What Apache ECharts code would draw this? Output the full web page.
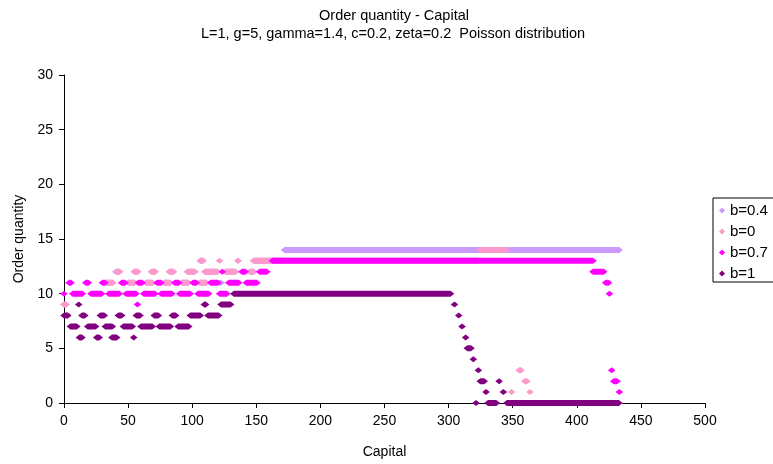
<!DOCTYPE html>
<html>
<head>
<meta charset="utf-8">
<script src="https://cdn.jsdelivr.net/npm/echarts@6/dist/echarts.min.js"></script>
<style>html,body{margin:0;padding:0;background:#fff;}#c{width:773px;height:464px;}</style>
</head>
<body>
<div id="c"></div>
<script>
// Runs of consecutive points: [capitalStart, capitalEnd, orderQuantity]
const seriesNames = ['b=0.4', 'b=0', 'b=0.7', 'b=1'];
const seriesColors = ['#CC99FF', '#FF99CC', '#FF00FF', '#800080'];
const xTicks = [0, 50, 100, 150, 200, 250, 300, 350, 400, 450, 500];
const yTicks = [0, 5, 10, 15, 20, 25, 30];

const runsB04 = [
  [0,1.5,9],[33,38,11],[40.5,43,12],[50,55,11],[54.9,57.5,12],[64,69,11],[68.3,71,12],
  [78,83,11],[82.2,85.3,12],[92,97,11],[96.3,102,12],[106,111,11],[106.3,108.4,13],
  [110,119.5,12],[121.5,122.5,11],[126,133.7,12],[135.7,135.7,13],[144.9,148,12],
  [148,171,13],[172,433,14]
];
const runsB0 = [
  [0,1.5,9],[33,38,11],[41.4,43.5,12],[50,55,11],[54.9,57.5,12],[64,69,11],[68.3,71,12],
  [78,83,11],[82.2,85.3,12],[92,97,11],[96.3,102,12],[106,111,11],[106.3,108.4,13],
  [110,119.5,12],[121.3,121.3,13],[126,133.7,12],[135.7,135.7,13],[144.9,148,12],
  [148,323,13],[325,345,14],[349,349,1],[355,356.5,3],[359.5,361,2],[363.5,363.5,1],
  [366,433,0]
];
const runsB07 = [
  [0,0,10],[4,5.5,11],[6.8,14.3,10],[17,19,11],[21,29.4,10],[30,32,11],[34.9,43.1,10],
  [45,47.6,11],[48.4,56.2,10],[57.3,57.3,9],[58,61,11],[62.2,71,10],[72.5,75.7,11],
  [75.7,84.2,10],[86.4,89.5,11],[90.2,98.5,10],[100.6,103.2,11],[104.5,112.9,10],
  [114.4,120.1,11],[121.4,127.1,10],[123.5,123.5,12],[128.5,136.3,11],[138.8,141.4,12],
  [142.2,150.5,11],[152.6,158.3,12],[162.5,412.6,13],[412.6,421,12],[422.5,424.8,11],
  [425.5,425.5,10],[427.2,427.2,3],[428.8,431.4,2],[433.2,433.2,1]
];
const runsB1 = [
  [0,3,8],[5,10,7],[11.5,11.5,9],[12,14,6],[14,16.2,8],[18.5,24.7,7],[25.5,27.5,6],
  [28.3,31.4,8],[32.2,37.7,7],[37.4,41.1,6],[42.4,45,8],[46.3,53.3,7],[54.4,54.4,6],
  [56.4,59.3,8],[60,68.9,7],[70.4,73.6,8],[74.3,83,7],[84.5,87.1,8],[89,97.3,7],
  [98.5,106.3,8],[109.5,110.5,9],[112.3,120.7,8],[122.5,130,9],[132.5,301.5,10],
  [304.6,304.6,9],[307.9,307.9,8],[310.5,310.5,7],[313.3,313.3,6],[314.6,317.5,5],
  [319.3,319.3,4],[323.2,323.2,3],[324.7,327.8,2],[329.2,329.2,1],[321.4,321.4,0],
  [330.7,337.2,0],[339.4,339.4,2],[342.7,342.7,1],[345.5,432.7,0]
];
const allRuns = [runsB04, runsB0, runsB07, runsB1];

const FONT = '"Liberation Sans", Arial, sans-serif';
const chart = echarts.init(document.getElementById('c'), null, {renderer: 'canvas'});

function makeRender(color) {
  return function (params, api) {
    const p1 = api.coord([api.value(0), api.value(2)]);
    const p2 = api.coord([api.value(1), api.value(2)]);
    const hw = 3.8, hh = 3;
    return {
      type: 'polygon',
      shape: {points: [
        [p1[0] - hw, p1[1]], [p1[0], p1[1] - hh], [p2[0], p2[1] - hh],
        [p2[0] + hw, p2[1]], [p2[0], p2[1] + hh], [p1[0], p1[1] + hh]
      ]},
      style: {fill: color}
    };
  };
}

const series = seriesNames.map((name, i) => ({
  name: name,
  type: 'custom',
  clip: false,
  renderItem: makeRender(seriesColors[i]),
  itemStyle: {color: seriesColors[i]},
  encode: {x: [0, 1], y: 2},
  data: allRuns[i]
}));

chart.setOption({
  animation: false,
  backgroundColor: '#fff',
  color: seriesColors,
  graphic: [
    {type: 'text', x: 394, y: 16, style: {text: 'Order quantity - Capital', font: '14.5px ' + FONT, fill: '#000', textAlign: 'center', textVerticalAlign: 'middle'}},
    {type: 'text', x: 393, y: 34, style: {text: 'L=1, g=5, gamma=1.4, c=0.2, zeta=0.2  Poisson distribution', font: '14.5px ' + FONT, fill: '#000', textAlign: 'center', textVerticalAlign: 'middle'}}
  ],
  grid: {left: 64, top: 75, width: 641, height: 329, containLabel: false},
  xAxis: {
    type: 'value', min: xTicks[0], max: xTicks[xTicks.length - 1], interval: 50,
    name: 'Capital', nameLocation: 'middle', nameGap: 42,
    nameTextStyle: {color: '#000', fontFamily: FONT, fontSize: 14},
    axisLine: {show: true, lineStyle: {color: '#000', width: 1}},
    axisTick: {show: true, inside: false, length: 5, lineStyle: {color: '#000'}},
    axisLabel: {color: '#000', fontFamily: FONT, fontSize: 14, margin: 11},
    splitLine: {show: false}
  },
  yAxis: {
    type: 'value', min: yTicks[0], max: yTicks[yTicks.length - 1], interval: 5,
    name: 'Order quantity', nameLocation: 'middle', nameGap: 37, nameRotate: 90,
    nameTextStyle: {color: '#000', fontFamily: FONT, fontSize: 14},
    axisLine: {show: true, lineStyle: {color: '#000', width: 1}},
    axisTick: {show: true, inside: false, length: 5, lineStyle: {color: '#000'}},
    axisLabel: {color: '#000', fontFamily: FONT, fontSize: 14, margin: 11},
    splitLine: {show: false}
  },
  legend: {
    orient: 'vertical', left: 713, top: 198,
    data: seriesNames.map(n => ({name: n, icon: 'diamond'})),
    itemWidth: 6, itemHeight: 6, itemGap: 6,
    padding: [5, 45, 1, 6],
    borderColor: '#000', borderWidth: 1, backgroundColor: '#fff',
    textStyle: {color: '#000', fontFamily: FONT, fontSize: 15, lineHeight: 15}
  },
  series: series
});
</script>
</body>
</html>
